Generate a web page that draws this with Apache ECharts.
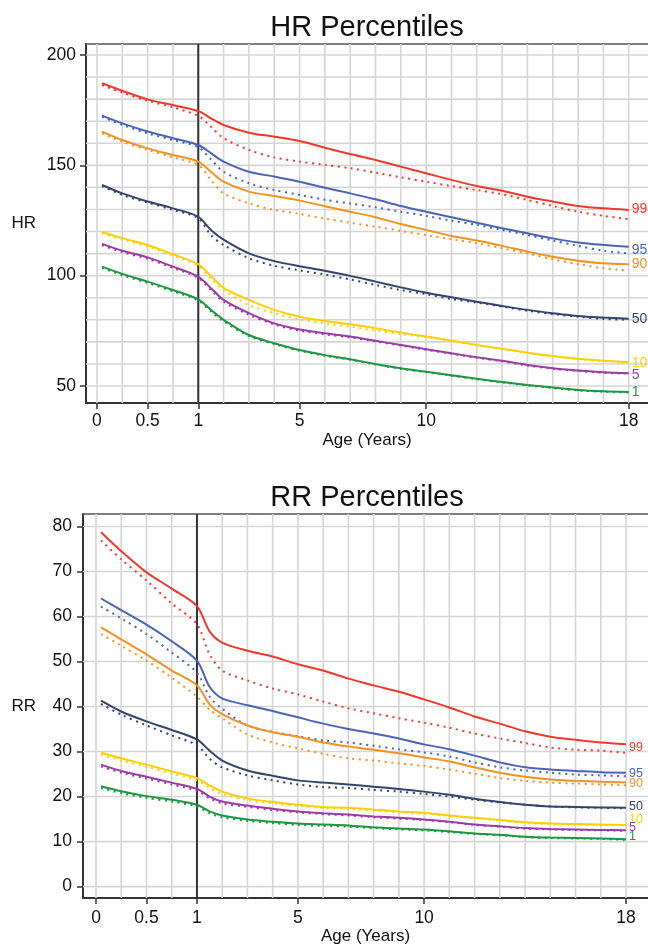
<!DOCTYPE html>
<html><head><meta charset="utf-8">
<script src="https://cdn.jsdelivr.net/npm/echarts@6/dist/echarts.min.js"></script>
<style>html,body{margin:0;padding:0;background:#fff}#c{width:648px;height:946px}</style>
</head><body><div id="c"></div>
<script>
// ---- data ----
const ages = [0.05, 0.25, 0.5, 0.75, 1, 1.5, 2, 3, 4, 5, 6, 7, 8, 9, 10, 11, 12, 13, 14, 15, 16, 17, 18];
const percentileNames = ['99', '95', '90', '50', '10', '5', '1'];
const xTickAges = [0, 0.5, 1, 5, 10, 18];
const xTickLabels = ['0', '0.5', '1', '5', '10', '18'];
const xGridAges = [0, 0.25, 0.5, 0.75, 1, 2, 3, 4, 5, 6, 7, 8, 9, 10, 11, 12, 13, 14, 15, 16, 17, 18];
const breakAge = [1];
const hrTicks = [50, 100, 150, 200];
const hrGrid = [50, 60, 70, 80, 90, 100, 110, 120, 130, 140, 150, 160, 170, 180, 190, 200];
const rrTicks = [0, 10, 20, 30, 40, 50, 60, 70, 80];
const rrGrid = [0, 10, 20, 30, 40, 50, 60, 70, 80];

// HR, solid (this study) and dotted (comparison)
const hrP99 = [187.2, 183.8, 179.9, 177.3, 174.6, 171.3, 168.3, 164.8, 163.0, 161.0, 158.0, 155.1, 152.4, 149.4, 146.4, 143.4, 140.6, 138.5, 135.8, 133.6, 131.6, 130.5, 129.8];
const hrP95 = [172.5, 169.0, 165.3, 162.3, 159.2, 155.5, 151.7, 147.1, 144.9, 142.6, 139.8, 137.3, 134.6, 131.6, 129.0, 126.5, 124.0, 121.5, 119.2, 116.9, 115.0, 113.9, 113.1];
const hrP90 = [165.3, 161.5, 157.7, 154.7, 151.7, 147.1, 142.6, 138.1, 136.1, 134.0, 131.5, 129.0, 126.5, 123.4, 120.7, 118.0, 115.9, 113.5, 110.9, 108.6, 106.8, 105.6, 105.2];
const hrP50 = [141.1, 137.3, 133.6, 130.5, 126.7, 120.7, 116.3, 110.1, 106.6, 104.3, 102.2, 99.9, 97.3, 94.7, 92.3, 90.2, 88.2, 86.3, 84.5, 83.0, 81.7, 81.0, 80.5];
const hrP10 = [119.9, 117.0, 113.9, 109.7, 105.2, 99.9, 94.5, 89.0, 84.5, 81.4, 79.5, 78.0, 76.2, 74.2, 72.4, 70.6, 68.6, 66.9, 65.1, 63.6, 62.4, 61.5, 60.9];
const hrP5 = [114.4, 111.3, 108.3, 104.1, 99.6, 94.3, 89.0, 83.0, 78.4, 75.6, 73.9, 72.4, 70.5, 68.6, 66.7, 64.8, 63.0, 61.4, 59.5, 58.0, 57.0, 56.2, 55.8];
const hrP1 = [104.1, 100.8, 97.3, 93.5, 89.3, 84.5, 80.0, 73.1, 69.4, 66.3, 64.0, 62.1, 60.0, 58.0, 56.5, 54.9, 53.3, 51.8, 50.5, 49.3, 48.2, 47.6, 47.3];

const hrRef99 = [186.4, 182.9, 179.3, 176.3, 172.4, 167.5, 162.3, 157.0, 153.6, 151.7, 150.2, 148.7, 146.7, 144.6, 142.6, 140.6, 138.8, 136.9, 134.3, 131.6, 129.0, 127.1, 125.6];
const hrRef95 = [172.0, 168.3, 164.5, 161.5, 158.2, 152.7, 147.1, 141.9, 138.8, 136.6, 134.4, 132.7, 131.0, 129.0, 127.1, 124.9, 123.0, 120.7, 118.4, 115.9, 113.5, 111.3, 110.1];
const hrRef90 = [164.5, 160.7, 157.0, 153.6, 150.2, 143.4, 137.3, 132.8, 129.8, 128.0, 125.9, 124.0, 122.2, 120.3, 118.4, 116.5, 114.7, 112.4, 110.1, 107.4, 105.2, 103.4, 102.3];
const hrRef50 = [140.6, 136.6, 133.1, 129.8, 126.0, 118.4, 113.9, 107.9, 104.5, 102.4, 100.5, 98.3, 95.8, 93.5, 91.6, 89.4, 87.8, 86.0, 84.1, 82.6, 81.4, 80.4, 80.0];
const hrRef10 = [119.3, 116.3, 113.2, 109.0, 104.5, 98.5, 93.5, 86.7, 83.0, 80.2, 78.4, 76.9, 75.1, 73.6, 72.1, 70.4, 68.4, 66.7, 64.9, 63.4, 62.2, 61.3, 60.7];
const hrRef5 = [113.8, 110.7, 107.6, 103.5, 99.0, 93.5, 88.2, 82.3, 77.9, 75.1, 73.4, 72.0, 70.2, 68.3, 66.4, 64.6, 62.8, 61.2, 59.3, 57.8, 56.8, 56.0, 55.6];
const hrRef1 = [103.5, 100.2, 96.7, 92.9, 88.7, 83.8, 79.3, 72.6, 69.0, 66.0, 63.7, 61.9, 59.8, 57.8, 56.3, 54.7, 53.1, 51.6, 50.3, 49.1, 48.0, 47.4, 47.1];

// RR
const rrP99 = [78.7, 74.5, 69.8, 66.2, 62.3, 56.7, 54.2, 52.4, 51.1, 49.4, 48.0, 46.2, 44.7, 43.3, 41.6, 39.8, 37.8, 36.2, 34.5, 33.3, 32.6, 32.0, 31.6];
const rrP95 = [64.0, 61.4, 58.2, 54.5, 50.2, 44.4, 41.8, 40.3, 39.0, 37.6, 36.2, 35.0, 34.0, 32.9, 31.6, 30.5, 29.1, 27.6, 26.5, 26.0, 25.7, 25.4, 25.3];
const rrP90 = [57.6, 54.9, 51.6, 48.0, 44.7, 40.5, 38.3, 35.8, 34.3, 33.3, 32.0, 31.1, 30.4, 29.6, 28.7, 27.8, 26.5, 25.3, 24.4, 23.8, 23.5, 23.3, 23.1];
const rrP50 = [41.3, 38.9, 36.7, 34.8, 32.7, 30.2, 28.0, 25.8, 24.6, 23.6, 23.1, 22.7, 22.2, 21.7, 21.1, 20.4, 19.5, 18.8, 18.2, 17.8, 17.7, 17.6, 17.5];
const rrP10 = [29.8, 28.5, 27.1, 25.6, 24.1, 22.5, 21.1, 19.6, 18.8, 18.2, 17.7, 17.5, 17.1, 16.7, 16.4, 15.8, 15.3, 14.8, 14.3, 14.0, 13.9, 13.8, 13.7];
const rrP5 = [27.1, 25.7, 24.4, 23.1, 21.7, 20.0, 18.9, 18.0, 17.3, 16.7, 16.3, 16.0, 15.6, 15.3, 14.9, 14.4, 13.8, 13.4, 13.0, 12.8, 12.7, 12.6, 12.5];
const rrP1 = [22.3, 21.2, 20.1, 19.3, 18.2, 16.7, 15.8, 14.9, 14.4, 14.0, 13.8, 13.6, 13.2, 12.9, 12.7, 12.3, 11.8, 11.5, 11.1, 10.9, 10.8, 10.7, 10.5];

const rrRef99 = [76.9, 72.7, 68.0, 62.9, 58.3, 51.6, 48.0, 45.8, 44.0, 42.7, 41.1, 39.6, 38.5, 37.4, 36.4, 35.3, 34.0, 32.9, 31.9, 30.9, 30.4, 30.2, 29.7];
const rrRef95 = [62.2, 59.6, 56.1, 52.0, 47.5, 42.2, 39.5, 35.8, 34.4, 33.4, 32.5, 32.0, 31.3, 30.5, 29.8, 28.9, 27.6, 26.5, 25.8, 25.3, 24.9, 24.7, 24.5];
const rrRef90 = [56.1, 53.5, 50.2, 46.4, 42.2, 39.3, 37.4, 33.8, 32.0, 30.7, 29.5, 28.5, 28.0, 27.4, 26.8, 26.0, 25.1, 24.1, 23.5, 23.1, 22.9, 22.7, 22.5];
const rrRef50 = [40.6, 38.2, 35.8, 33.6, 31.4, 28.4, 26.5, 24.7, 23.6, 22.7, 22.1, 21.9, 21.5, 21.1, 20.6, 20.0, 19.3, 18.7, 18.2, 17.8, 17.6, 17.5, 17.4];
const rrRef10 = [29.3, 28.0, 26.6, 25.1, 23.6, 21.9, 20.6, 19.2, 18.5, 17.9, 17.5, 17.3, 16.9, 16.5, 16.2, 15.7, 15.2, 14.7, 14.2, 13.9, 13.8, 13.7, 13.6];
const rrRef5 = [26.7, 25.3, 24.0, 22.7, 21.3, 19.6, 18.5, 17.7, 17.0, 16.5, 16.1, 15.8, 15.4, 15.1, 14.8, 14.3, 13.7, 13.3, 12.9, 12.7, 12.6, 12.5, 12.4];
const rrRef1 = [21.9, 20.8, 19.7, 18.9, 17.8, 16.3, 15.4, 14.6, 14.1, 13.7, 13.5, 13.3, 13.0, 12.7, 12.5, 12.1, 11.7, 11.4, 11.0, 10.8, 10.7, 10.6, 10.4];

// ---- styles ----
const colors = ['#f2382c', '#4a64b5', '#f39122', '#33456b', '#ffd000', '#9b3ba5', '#1d9641'];
const FONT = "'Liberation Sans', Arial, Helvetica, sans-serif";
const hrLabelNudge = [[0, -1], [0, 3], [0, 0], [0, 0], [0, 1], [0, 2], [0, 0]];
const rrLabelNudge = [[0, 3], [0, 1], [0, 1], [0, -1], [0, -5], [0, -3], [0, -3]];

// Age axis: the first year is stretched 4x
const toU = a => (a <= 1 ? a * 4 : a + 3);
const tickU = xTickAges.map(toU);
const labelForU = {};
tickU.forEach((u, i) => { labelForU[u.toFixed(3)] = xTickLabels[i]; });

function gridLineSeries(axisIdx, values, dir, stroke, width, z) {
  return {
    type: 'custom', xAxisIndex: axisIdx.x, yAxisIndex: axisIdx.y, silent: true, z: z, clip: false,
    data: values.map(v => [v]),
    encode: dir === 'v' ? { x: 0 } : { y: 0 },
    renderItem: function (params, api) {
      const cs = params.coordSys; const v = api.value(0);
      if (dir === 'v') {
        const x = api.coord([v, 0])[0];
        return { type: 'line', shape: { x1: x, y1: cs.y, x2: x, y2: cs.y + cs.height }, style: { stroke: stroke, lineWidth: width } };
      }
      const y = api.coord([0, v])[1];
      return { type: 'line', shape: { x1: cs.x, y1: y, x2: cs.x + cs.width, y2: y }, style: { stroke: stroke, lineWidth: width } };
    }
  };
}

function panelSeries(axisIdx, solids, refs, nudge, labelSize) {
  const out = [];
  refs.forEach((arr, i) => {
    out.push({
      type: 'line', name: percentileNames[i] + ' ref', xAxisIndex: axisIdx.x, yAxisIndex: axisIdx.y,
      data: arr.map((v, j) => [toU(ages[j]), v]), showSymbol: false, symbol: 'none', smooth: 0.3, z: 3,
      lineStyle: { color: colors[i], width: 2, type: [2, 4.5], cap: 'butt' }
    });
  });
  solids.forEach((arr, i) => {
    out.push({
      type: 'line', name: percentileNames[i], xAxisIndex: axisIdx.x, yAxisIndex: axisIdx.y,
      data: arr.map((v, j) => [toU(ages[j]), v]), showSymbol: false, symbol: 'none', smooth: 0.3, z: 4,
      lineStyle: { color: colors[i], width: 2 },
      endLabel: { show: true, formatter: percentileNames[i], color: colors[i], fontSize: labelSize, fontFamily: FONT, distance: 3, offset: nudge[i] }
    });
  });
  return out;
}

function xAxes(gridIndex, min, max, labelMargin, nameGap) {
  return [{
    type: 'value', gridIndex: gridIndex, position: 'bottom', min: min, max: max,
    axisLine: { show: true, onZero: false, lineStyle: { color: '#333', width: 2 } },
    axisTick: { show: true, customValues: tickU, length: 6, lineStyle: { color: '#333', width: 1.5 } },
    axisLabel: { customValues: tickU, margin: labelMargin, fontSize: 17.5, fontFamily: FONT, color: '#111',
      formatter: v => labelForU[Number(v).toFixed(3)] || '' },
    splitLine: { show: false },
    name: 'Age (Years)', nameLocation: 'middle', nameGap: nameGap,
    nameTextStyle: { fontSize: 17, fontFamily: FONT, color: '#111' }
  }, {
    type: 'value', gridIndex: gridIndex, position: 'top', min: min, max: max,
    axisLine: { show: true, onZero: false, lineStyle: { color: '#555', width: 1.5 } },
    axisTick: { show: false }, axisLabel: { show: false }, splitLine: { show: false }
  }];
}

function yAxis(gridIndex, min, max, ticks, name, labelMargin, nameGap) {
  return {
    type: 'value', gridIndex: gridIndex, min: min, max: max,
    axisLine: { show: true, onZero: false, lineStyle: { color: '#333', width: 2 } },
    axisTick: { show: true, customValues: ticks, length: 6, lineStyle: { color: '#333', width: 1.5 } },
    axisLabel: { customValues: ticks, margin: labelMargin, fontSize: 17.5, fontFamily: FONT, color: '#111' },
    splitLine: { show: false },
    name: name, nameLocation: 'middle', nameRotate: 0, nameGap: nameGap,
    nameTextStyle: { fontSize: 17, fontFamily: FONT, color: '#111' }
  };
}

const hrAx = { x: 0, y: 0 }, rrAx = { x: 2, y: 1 };
const chart = echarts.init(document.getElementById('c'), null, { renderer: 'canvas' });
chart.setOption({
  animation: false,
  backgroundColor: '#fff',
  grid: [
    { left: 86, top: 44, right: 0, height: 359 },
    { left: 83, top: 514, right: 0, height: 391 }
  ],
  graphic: [
    { type: 'text', x: 367, y: 28, style: { text: 'HR Percentiles', fontSize: 29, fontFamily: FONT, fill: '#111', align: 'center', verticalAlign: 'middle' } },
    { type: 'text', x: 367, y: 498, style: { text: 'RR Percentiles', fontSize: 29, fontFamily: FONT, fill: '#111', align: 'center', verticalAlign: 'middle' } }
  ],
  xAxis: [].concat(xAxes(0, -0.434, 21.761, 9.5, 26), xAxes(1, -0.515, 21.87, 11, 22.5)),
  yAxis: [
    yAxis(0, 42.3, 204.98, hrTicks, 'HR', 10, 50),
    yAxis(1, -2.553, 82.77, rrTicks, 'RR', 11, 47)
  ],
  series: [].concat(
    gridLineSeries(hrAx, xGridAges.map(toU), 'v', '#d5d5d5', 1.6, 1),
    gridLineSeries(hrAx, hrGrid, 'h', '#d5d5d5', 1.6, 1),
    gridLineSeries(hrAx, breakAge.map(toU), 'v', '#333', 2, 2),
    gridLineSeries(rrAx, xGridAges.map(toU), 'v', '#d5d5d5', 1.6, 1),
    gridLineSeries(rrAx, rrGrid, 'h', '#d5d5d5', 1.6, 1),
    gridLineSeries(rrAx, breakAge.map(toU), 'v', '#333', 2, 2),
    panelSeries(hrAx, [hrP99, hrP95, hrP90, hrP50, hrP10, hrP5, hrP1], [hrRef99, hrRef95, hrRef90, hrRef50, hrRef10, hrRef5, hrRef1], hrLabelNudge, 14),
    panelSeries(rrAx, [rrP99, rrP95, rrP90, rrP50, rrP10, rrP5, rrP1], [rrRef99, rrRef95, rrRef90, rrRef50, rrRef10, rrRef5, rrRef1], rrLabelNudge, 12.5)
  )
});
</script></body></html>
